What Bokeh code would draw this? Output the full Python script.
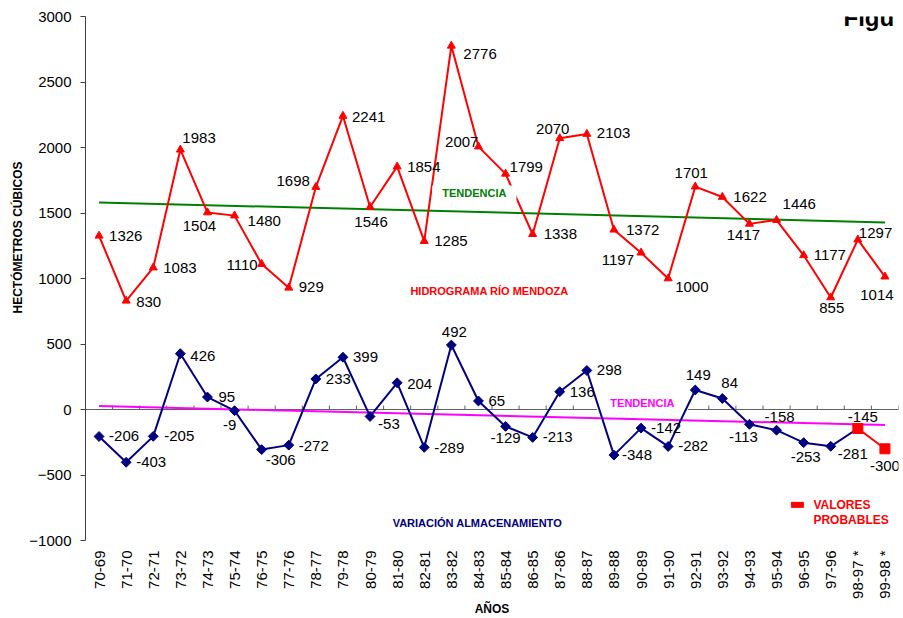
import numpy as np
from bokeh.plotting import figure
from bokeh.models import Range1d, FixedTicker, ColumnDataSource, Label, Title
from bokeh.core.properties import value
from bokeh.embed import file_html
from bokeh.resources import INLINE

# ---------------- data ----------------
periods = ["70-69", "71-70", "72-71", "73-72", "74-73", "75-74", "76-75", "77-76",
           "78-77", "79-78", "80-79", "81-80", "82-81", "83-82", "84-83", "85-84",
           "86-85", "87-86", "88-87", "89-88", "90-89", "91-90", "92-91", "93-92",
           "94-93", "95-94", "96-95", "97-96", "98-97 *", "99-98 *"]
hidrograma = [1326, 830, 1083, 1983, 1504, 1480, 1110, 929, 1698, 2241, 1546, 1854,
              1285, 2776, 2007, 1799, 1338, 2070, 2103, 1372, 1197, 1000, 1701, 1622,
              1417, 1446, 1177, 855, 1297, 1014]
variacion = [-206, -403, -205, 426, 95, -9, -306, -272, 233, 399, -53, 204, -289, 492,
             65, -129, -213, 136, 298, -348, -142, -282, 149, 84, -113, -158, -253,
             -281, -145, -300]
n_probables = 2                      # last values are "valores probables"
trend_hidrograma = [1581, 1428]      # tendencia, first and last period
trend_variacion = [26, -119]
y_ticks = [-1000, -500, 0, 500, 1000, 1500, 2000, 2500, 3000]

# ---------------- label placement (style) ----------------
hidro_dx = [10, 10, 10, 2, -8, 13, -4, 10, -6, 9, 1, 10, 10, 12, 0, 4, 11, -7, 10, 12,
            -7, 7, -4, 11, -6, 6, 10, 1, 1, -8]
hidro_dy = [0, 1, 0, -12, 14, 5, 1, -1, -6, 1, 15, 0, 0, 8, -5, -7, 0, -9, -1, 0,
            7, 8, -14, 0, 11, -16, 0, 11, -7, 18]
hidro_al = ["left", "left", "left", "left", "center", "left", "right", "left", "right",
            "left", "center", "left", "left", "left", "right", "left", "left", "center",
            "left", "left", "right", "left", "center", "left", "center", "left", "left",
            "center", "left", "center"]
var_dx = [10, 10, 11, 10, 11, -5, 4, 10, 10, 10, 8, 10, 10, 3, 10, 0, 10, 10, 10, 8,
          10, 10, 3, -1, -6, 3, 2, 7, 5, 0]
var_dy = [0, 0, 0, 2, 0, 14, 10, 1, 0, 0, 8, 1, 1, -13, 0, 12, 0, 0, 0, 0,
          0, 0, -15, -15, 13, -13, 14, 8, -11, 17]
var_al = ["left", "left", "left", "left", "left", "center", "left", "left", "left",
          "left", "left", "left", "left", "center", "left", "center", "left", "left",
          "left", "left", "left", "left", "center", "left", "center", "center", "center",
          "left", "center", "center"]

FONT = "Liberation Sans"
RED = "#FF0000"
NAVY = "#000080"
GREEN = "#008000"
MAGENTA = "#FF00FF"

n = len(periods)
x = np.arange(1, n + 1)

p = figure(width=903, height=618,
           x_range=Range1d(0.5, n + 0.5), y_range=Range1d(-1000, 3000),
           output_backend="svg", toolbar_location=None,
           min_border_left=85, min_border_right=5, min_border_top=16, min_border_bottom=72)
p.outline_line_color = None
p.xgrid.grid_line_color = None
p.ygrid.grid_line_color = None
p.background_fill_color = "white"
p.border_fill_color = "white"

# x axis (labels only, at the bottom)
xa = p.xaxis[0]
xa.ticker = FixedTicker(ticks=[int(v) for v in x])
xa.major_label_overrides = {int(i): lab for i, lab in zip(x, periods)}
xa.major_label_orientation = np.pi / 2
xa.axis_line_color = None
xa.major_tick_line_color = None
xa.minor_tick_line_color = None
xa.major_tick_out = 0
xa.major_label_standoff = 10
xa.major_label_text_font = FONT
xa.major_label_text_font_size = "15px"
xa.major_label_text_color = "black"
xa.axis_label = "AÑOS"
xa.axis_label_standoff = 0
xa.axis_label_text_font = FONT
xa.axis_label_text_font_size = "12px"
xa.axis_label_text_font_style = "bold"
xa.axis_label_text_color = "black"

# y axis
ya = p.yaxis[0]
ya.ticker = FixedTicker(ticks=y_ticks)
ya.axis_line_color = "#404040"
ya.major_tick_line_color = "#404040"
ya.major_tick_out = 5
ya.major_tick_in = 0
ya.minor_tick_line_color = None
ya.major_label_standoff = 9
ya.major_label_text_font = FONT
ya.major_label_text_font_size = "15px"
ya.major_label_text_color = "black"

p.add_layout(Title(text="HECTÓMETROS CÚBICOS", align="left", offset=227, standoff=4,
                   text_font=FONT, text_font_size="12px", text_font_style="bold",
                   text_color="black"), "left")

# horizontal category axis crossing at 0
p.line([0.5, n + 0.5], [0, 0], line_color="#606060", line_width=1)
bounds = x + 0.5
p.segment(x0=bounds, y0=np.zeros(n), x1=bounds, y1=np.full(n, 30.0),
          line_color="#606060", line_width=1)
# white box behind the lower "TENDENCIA" text
p.rect(x=[21.05], y=[47], width=90, height=14, width_units="screen",
       height_units="screen", color="white")

# trend lines
ends = [x[0], x[-1]]
p.line(ends, trend_hidrograma, line_color=GREEN, line_width=2)
p.line(ends, trend_variacion, line_color=MAGENTA, line_width=2)

# hidrograma
p.line(x, hidrograma, line_color=RED, line_width=2)
p.scatter(x, hidrograma, marker="triangle", size=8, color=RED)

# variacion almacenamiento
na = n - n_probables
var = np.array(variacion)
p.line(x[:na + 1], var[:na + 1], line_color=NAVY, line_width=2)
p.line(x[na:], var[na:], line_color=RED, line_width=2)
p.scatter(x[:na], var[:na], marker="square", angle=np.pi / 4, size=7, color=NAVY)
p.scatter(x[na:], var[na:], marker="square", size=10, color=RED)

# value labels
src_h = ColumnDataSource(dict(x=x, y=hidrograma, t=[str(v) for v in hidrograma],
                              dx=hidro_dx, dy=hidro_dy, al=hidro_al))
p.text("x", "y", text="t", x_offset="dx", y_offset="dy", text_align="al",
       text_baseline="middle", text_font=value(FONT), text_font_size="15px",
       text_color="black", source=src_h)
src_v = ColumnDataSource(dict(x=x, y=variacion, t=[str(v) for v in variacion],
                              dx=var_dx, dy=var_dy, al=var_al))
p.text("x", "y", text="t", x_offset="dx", y_offset="dy", text_align="al",
       text_baseline="middle", text_font=value(FONT), text_font_size="15px",
       text_color="black", source=src_v)

# annotations
def lab(txt, xx, yy, color, size="11px", bold=True, align="center", bg=None, pad=0,
        baseline="middle"):
    kw = {}
    if bg is not None:
        kw["background_fill_color"] = bg
        kw["padding"] = pad
    l = Label(x=xx, y=yy, text=txt, text_color=color, text_font=FONT,
              text_font_size=size, text_font_style="bold" if bold else "normal",
              text_align=align, text_baseline=baseline, **kw)
    p.add_layout(l)

lab("TENDENCIA", 14.85, 1649, GREEN, bg="white", pad=(10, 2))
lab("TENDENCIA", 21.05, 47, MAGENTA)
lab("HIDROGRAMA RÍO MENDOZA", 15.41, 907, RED)
lab("VARIACIÓN ALMACENAMIENTO", 14.96, -864, NAVY)
lab("VALORES", 27.36, -728, RED, size="12px", align="left")
lab("PROBABLES", 27.36, -842, RED, size="12px", align="left")
lab("Figu", 28.47, 2990, "black", size="24px", align="left", baseline="alphabetic")

# legend symbol for valores probables
p.rect(x=[26.77], y=[-728], width=12, height=5, width_units="screen",
       height_units="screen", color=RED)

open("out.html", "w").write(file_html(p, INLINE))
